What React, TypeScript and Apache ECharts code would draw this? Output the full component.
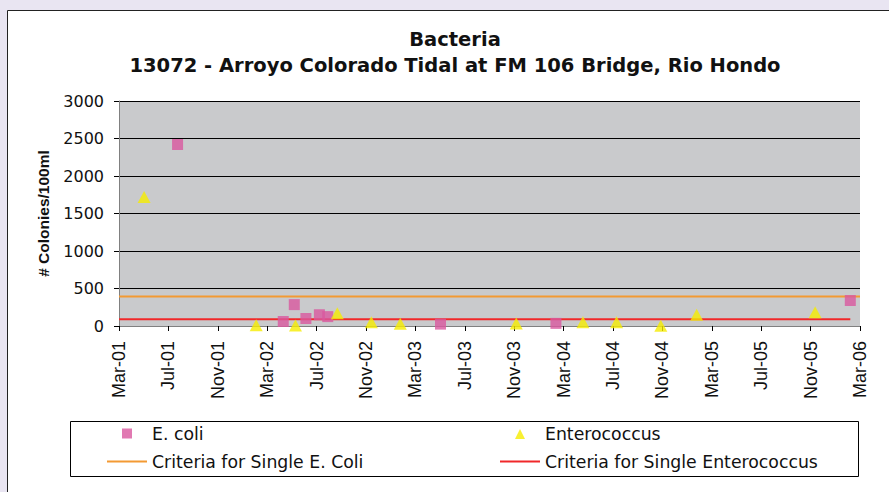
import React, { useEffect, useRef } from "react";
import * as echarts from "echarts";

const titleText = "Bacteria\n13072 - Arroyo Colorado Tidal at FM 106 Bridge, Rio Hondo";
const yAxisName = "# Colonies/100ml";

const xTickLabels = [
  "Mar-01", "Jul-01", "Nov-01", "Mar-02", "Jul-02", "Nov-02", "Mar-03", "Jul-03",
  "Nov-03", "Mar-04", "Jul-04", "Nov-04", "Mar-05", "Jul-05", "Nov-05", "Mar-06",
];

const ecoliDates = [
  "2001-07-24", "2002-04-10", "2002-05-07", "2002-06-05", "2002-07-08",
  "2002-07-29", "2003-05-02", "2004-02-12", "2006-02-07",
];
const ecoliValues = [2420, 60, 285, 100, 150, 125, 25, 35, 340];

const enteroDates = [
  "2001-05-02", "2002-02-04", "2002-05-10", "2002-08-22", "2002-11-14", "2003-01-25",
  "2003-11-06", "2004-04-18", "2004-07-10", "2004-10-28", "2005-01-25", "2005-11-12",
];
const enteroValues = [1720, 10, 8, 170, 50, 30, 35, 50, 50, 5, 150, 185];

const ecoliCriteriaDates = ["2001-03-01", "2006-03-01"];
const ecoliCriteriaValues = [394, 394];
const enteroCriteriaDates = ["2001-03-01", "2006-02-07"];
const enteroCriteriaValues = [89, 89];

const seriesNames = [
  "E. coli",
  "Enterococcus",
  "Criteria for Single E. Coli",
  "Criteria for Single Enterococcus",
];

// months since Mar-2001 (fractional)
function toMonthIndex(d: string): number {
  const [y, m, day] = d.split("-").map(Number);
  const dim = new Date(y, m, 0).getDate();
  return (y - 2001) * 12 + (m - 3) + (day - 1) / dim;
}

function pairs(dates: string[], values: number[]) {
  return dates.map((d, i) => [toMonthIndex(d), values[i]]);
}

const ARIAL = "'Liberation Sans', Arial, sans-serif";
const WIDE = "'DejaVu Sans', sans-serif";

// icons span a 40x11 box so that the glyph sits centred like the line icons
const SQUARE_ICON = "path://M0 0M40 11M15 0.5H25V10.5H15Z";
const TRIANGLE_ICON = "path://M0 0M40 11M15 11L20 1L25 11Z";
const LINE_ICON = "path://M0 0H40V2H0Z";

function legendItem(name: string, icon: string, left: number, top: number) {
  return {
    data: [{ name, icon }],
    left,
    top,
    padding: 0,
    itemGap: 0,
    itemWidth: 40,
    itemHeight: 11,
    textStyle: { fontFamily: WIDE, fontSize: 17.3, color: "#111" },
  };
}

export default function App() {
  const ref = useRef<HTMLDivElement>(null);

  useEffect(() => {
    if (!ref.current) return;
    const chart = echarts.init(ref.current, undefined, { renderer: "svg" });
    chart.setOption({
      animation: false,
      backgroundColor: "#E9E5F2",
      textStyle: { fontFamily: WIDE },
      title: {
        text: titleText,
        left: 450,
        top: 21,
        textAlign: "center",
        textStyle: {
          fontFamily: WIDE,
          fontSize: 19.5,
          fontWeight: "bold",
          color: "#111",
          lineHeight: 26,
        },
      },
      graphic: [
        {
          type: "rect",
          z: -10,
          shape: { x: 7.5, y: 10.5, width: 900, height: 500 },
          style: { fill: "#ffffff", stroke: "#222", lineWidth: 1 },
        },
        {
          type: "rect",
          z: -5,
          shape: { x: 70.5, y: 421.5, width: 788, height: 55 },
          style: { fill: "#ffffff", stroke: "#000", lineWidth: 1 },
        },
      ],
      grid: {
        left: 119,
        top: 101,
        width: 741,
        height: 225,
        show: true,
        backgroundColor: "#C9CACC",
        borderWidth: 0,
      },
      legend: [
        legendItem(seriesNames[0], SQUARE_ICON, 107, 425),
        legendItem(seriesNames[1], TRIANGLE_ICON, 500, 425),
        legendItem(seriesNames[2], LINE_ICON, 107, 453),
        legendItem(seriesNames[3], LINE_ICON, 500, 453),
      ],
      xAxis: {
        type: "value",
        min: 0,
        max: 60,
        interval: 4,
        axisLine: { show: true, lineStyle: { color: "#808080", width: 1 } },
        axisTick: { show: true, length: 5, lineStyle: { color: "#000" } },
        axisLabel: {
          rotate: 90,
          margin: 15,
          fontSize: 18,
          color: "#111",
          fontFamily: ARIAL,
          formatter: (v: number) => xTickLabels[Math.round(v / 4)] ?? "",
        },
        splitLine: { show: false },
      },
      yAxis: {
        type: "value",
        min: 0,
        max: 3000,
        interval: 500,
        name: yAxisName,
        nameLocation: "middle",
        nameGap: 68,
        nameTextStyle: { fontFamily: ARIAL, fontSize: 15.5, fontWeight: "bold", color: "#111" },
        axisLine: { show: true, lineStyle: { color: "#808080", width: 1 } },
        axisTick: { show: true, length: 5, lineStyle: { color: "#000" } },
        axisLabel: {
          margin: 15,
          fontSize: 16,
          color: "#111",
          fontFamily: WIDE,
          formatter: (v: number) => String(v),
        },
        splitLine: { show: true, lineStyle: { color: "#000", width: 1 } },
      },
      series: [
        {
          name: seriesNames[2],
          type: "line",
          z: 2,
          symbol: "none",
          data: pairs(ecoliCriteriaDates, ecoliCriteriaValues),
          lineStyle: { color: "#F39A33", width: 2 },
          itemStyle: { color: "#F39A33" },
        },
        {
          name: seriesNames[3],
          type: "line",
          z: 2,
          symbol: "none",
          data: pairs(enteroCriteriaDates, enteroCriteriaValues),
          lineStyle: { color: "#F0282A", width: 2 },
          itemStyle: { color: "#F0282A" },
        },
        {
          name: seriesNames[0],
          type: "scatter",
          z: 3,
          symbol: "rect",
          symbolSize: 11,
          data: pairs(ecoliDates, ecoliValues),
          itemStyle: { color: "#D9579F" },
        },
        {
          name: seriesNames[1],
          type: "scatter",
          z: 3,
          symbol: "triangle",
          symbolSize: [13, 12],
          data: pairs(enteroDates, enteroValues),
          itemStyle: { color: "#F6EC00" },
        },
      ],
    });
    return () => chart.dispose();
  }, []);

  return (
    <div
      ref={ref}
      style={{ position: "fixed", left: 0, top: 0, width: 889, height: 492 }}
    />
  );
}
